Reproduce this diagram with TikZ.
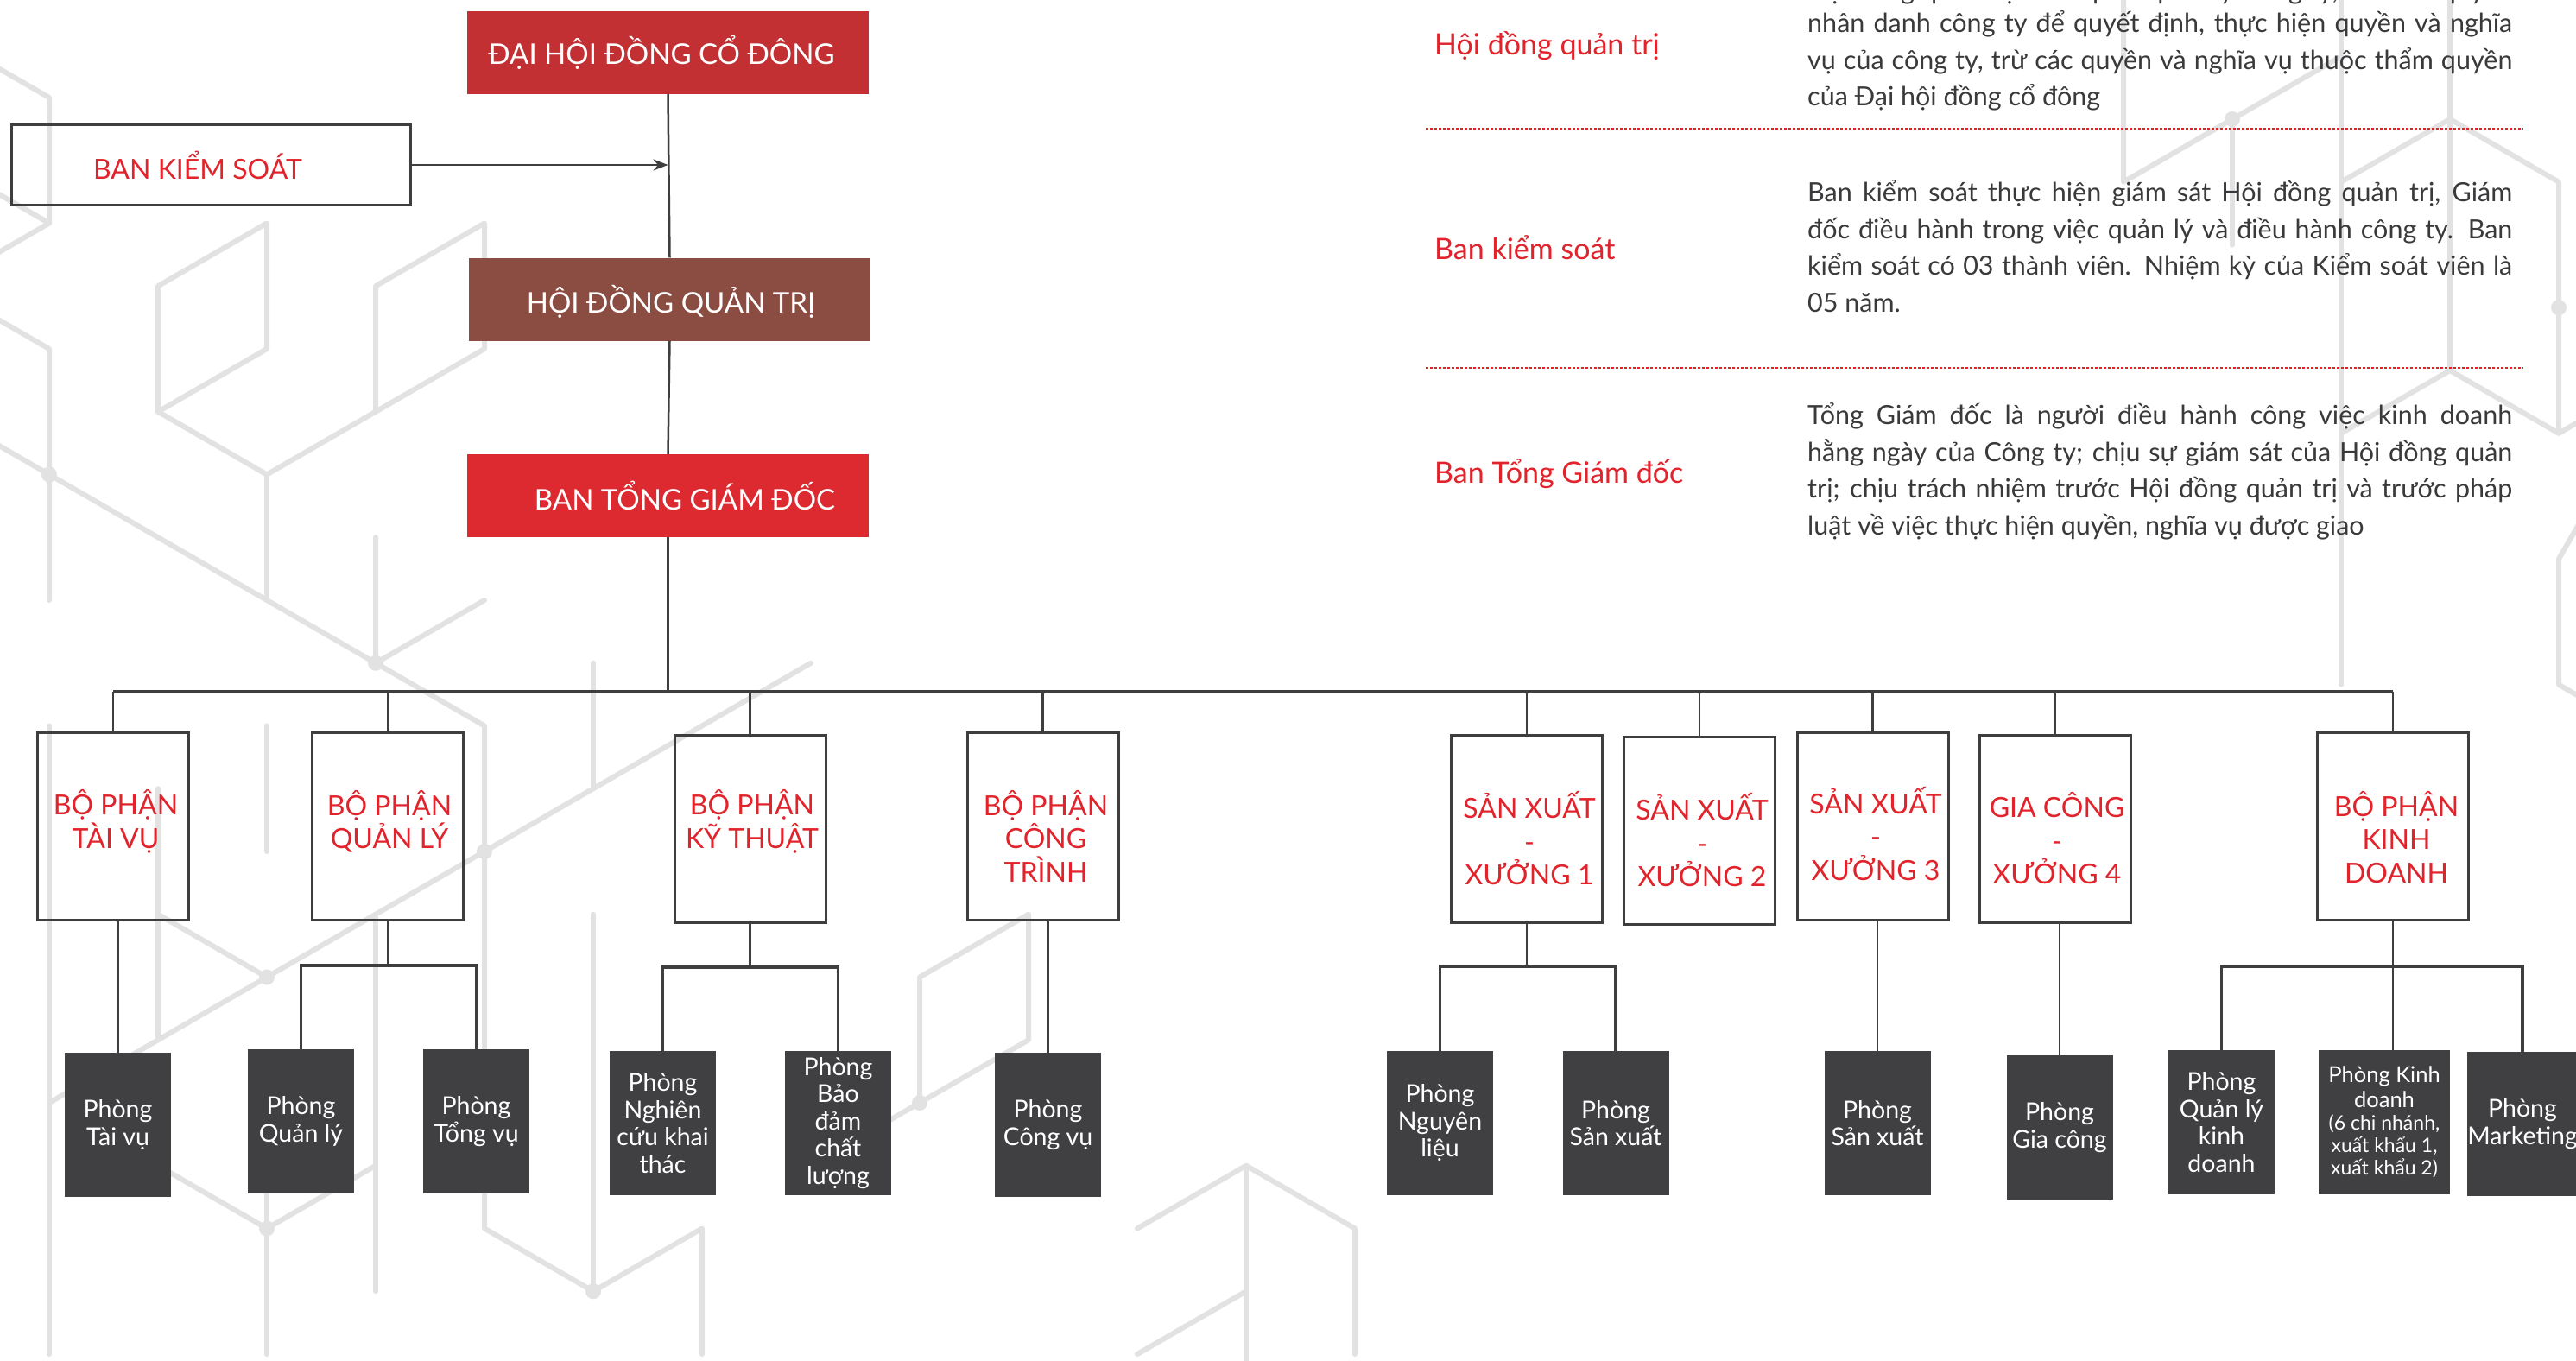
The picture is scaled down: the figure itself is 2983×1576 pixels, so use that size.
\documentclass[tikz,border=0pt]{standalone}
\usepackage{fontspec}
\setmainfont{Lato}
\usetikzlibrary{arrows.meta,calc}
\definecolor{dhred}{RGB}{194,48,51}
\definecolor{hdbrown}{RGB}{139,76,66}
\definecolor{tgred}{RGB}{220,42,48}
\definecolor{txtred}{RGB}{225,35,43}
\definecolor{darkbox}{RGB}{64,64,66}
\definecolor{linegray}{RGB}{62,62,62}
\definecolor{bodygray}{RGB}{58,58,60}
\definecolor{bggray}{RGB}{226,226,226}
\definecolor{dotred}{RGB}{214,40,40}
\begin{document}
\begin{tikzpicture}[x=1pt,y=-1pt,
  topbox/.style={rectangle, minimum width=465pt, minimum height=96pt, inner sep=0pt},
  toptext/.style={text=white, font=\fontsize{33}{38}\selectfont, inner sep=0pt},
  lbox/.style={draw=linegray, line width=3pt, minimum width=175pt, minimum height=217pt, inner sep=0pt},
  ltext/.style={align=center, text=txtred, font=\fontsize{32}{38.5}\selectfont, inner sep=0pt},
  dbox/.style={fill=darkbox, minimum width=123pt, minimum height=167pt, inner sep=0pt, align=center, text=white, font=\fontsize{28.5}{31.5}\selectfont},
  conn/.style={draw=linegray, line width=2.5pt},
  busline/.style={draw=linegray, line width=3.5pt},
  dotline/.style={draw=dotred, line width=2.5pt, dash pattern=on 2.5pt off 2.5pt},
  sidelabel/.style={text=txtred, font=\fontsize{34}{38}\selectfont, inner sep=0pt, anchor=mid west},
  para/.style={text=bodygray, font=\fontsize{30.5}{42.5}\selectfont, text width=816pt, align=justify, inner sep=0pt, anchor=base west},
  bg/.style={draw=bggray, line width=6pt, line cap=round, line join=round},
  bgdot/.style={fill=bggray, draw=none}
]
\useasboundingbox (0,0) rectangle (2983,1576);
\clip (0,0) rectangle (2983,1576);
\fill[white] (0,0) rectangle (2983,1576);

% ---------- background pattern: isometric lattice ----------
\foreach \i in {-1,...,13}{
  \foreach \r in {-1,...,10}{
    \pgfmathsetmacro\yy{113+72.75*Mod(\i,2)+145.5*\r}
    \coordinate (P\i_\r) at ({57+126*\i},\yy);
  }
}
\foreach \m in {-3,...,2}{
  \foreach \r in {-2,...,5}{
    \pgfmathsetmacro\yy{138+72.75*Mod(\m,2)+145.5*\r}
    \coordinate (Q\m_\r) at ({2837+126*\m},\yy);
  }
}
% left part
\draw[bg] (P-1_-1) -- (P0_0) -- (P0_1);
\draw[bg] (P-1_0) -- (P0_1) -- (P-1_1);
\draw[bg] (P1_1) -- (P2_1) -- (P2_2) -- (P1_2) -- cycle;
\draw[bg] (P3_1) -- (P4_1) -- (P4_2) -- (P3_2) -- cycle;
\draw[bg] (P1_2) -- (P2_3) -- (P3_2);
\draw[bg] (P2_3) -- (P2_4);
\draw[bg] (P-1_1) -- (P0_2) -- (P0_4);
\draw[bg] (P-1_2) -- (P0_3) -- (P1_3) -- (P2_4) -- (P3_4) -- (P4_5);
\draw[bg] (P3_3) -- (P3_4) -- (P4_4);
\draw[bg] (P5_4) -- (P5_5);
\draw[bg] (P0_5) -- (P0_10);
\draw[bg] (P1_5) -- (P1_7);
\draw[bg] (P0_8) -- (P1_7) -- (P2_7) -- (P3_6) -- (P4_6) -- (P5_5) -- (P6_5) -- (P7_4);
\draw[bg] (P1_6) -- (P2_7);
\draw[bg] (P2_5) -- (P2_6);
\draw[bg] (P3_6) -- (P3_9);
\draw[bg] (P4_5) -- (P4_9) -- (P5_9) -- (P6_9) -- (P6_10);
\draw[bg] (P5_6) -- (P5_9);
\draw[bg] (P2_8) -- (P2_10);
\draw[bg] (P1_8) -- (P2_9) -- (P3_8);
\draw[bg] (P7_8) -- (P8_8) -- (P9_7) -- (P9_6) -- (P8_7) -- (P8_8);
\draw[bg] (P10_9) -- (P11_8) -- (P12_9) -- (P12_10);
\draw[bg] (P11_8) -- (P11_10);
\draw[bg] (P10_10) -- (P11_9);
% right part
\draw[bg] (Q-3_-2) -- (Q-3_0) -- (Q-2_0) -- (Q-1_-1);
\draw[bg] (Q-2_0) -- (Q-2_1);
\draw[bg] (Q-1_-2) -- (Q-1_4);
\draw[bg] (Q0_-1) -- (Q0_2);
\draw[bg] (Q-1_0) -- (Q0_0) -- (Q1_0) -- (Q1_2) -- (Q2_2);
\draw[bg] (Q-1_2) -- (Q0_2) -- (Q1_2);
\draw[bg] (Q2_2) -- (Q1_3) -- (Q1_4) -- (Q2_5);
\foreach \p in {P0_3,P2_7,P2_9,P5_9,P8_8,P3_4,P4_6,Q-2_0,Q1_1}{\fill[bgdot] (\p) circle (9pt);}

% ---------- top part ----------
\node[topbox, fill=dhred] (dh) at (773.5,61) {};
\node[toptext] (dht) at (766,61) {ĐẠI HỘI ĐỒNG CỔ ĐÔNG};
\node[draw=linegray, line width=3pt, minimum width=462pt, minimum height=93pt, inner sep=0pt] (bks) at (244.5,191) {};
\node[text=txtred, font=\fontsize{32}{38}\selectfont, inner sep=0pt] (bkst) at (229,191) {BAN KIỂM SOÁT};
\node[topbox, fill=hdbrown] (hd) at (775.5,346.5) {};
\node[toptext] (hdt) at (777,349) {HỘI ĐỒNG QUẢN TRỊ};
\node[topbox, fill=tgred] (tg) at (773.5,574) {};
\node[toptext] (tgt) at (793,574) {BAN TỔNG GIÁM ĐỐC};

\coordinate (busy) at (773.5,801);
\draw[conn] (dh.south) -- (hd.north);
\draw[conn] (hd.south) -- (tg.north);
\draw[conn] (tg.south) -- (busy);
\draw[conn, -{Stealth[length=17pt,width=13pt]}] (bks.east) -- (bks.east -| dh.south);

% ---------- level 2 ----------
\node[lbox] (tv) at (131,957) {};
\node[lbox] (ql) at (449,957) {};
\node[lbox] (kt) at (868.5,960) {};
\node[lbox] (ct) at (1207.5,957) {};
\node[lbox] (x1) at (1768,960) {};
\node[lbox] (x2) at (1968,962) {};
\node[lbox] (x3) at (2168.5,957) {};
\node[lbox] (x4) at (2379.5,960) {};
\node[lbox] (kd) at (2771,957) {};
\node[ltext] (tvt) at (134,951.5) {BỘ PHẬN\\TÀI VỤ};
\node[ltext] (qlt) at (451,951.5) {BỘ PHẬN\\QUẢN LÝ};
\node[ltext] (ktt) at (871,951.5) {BỘ PHẬN\\KỸ THUẬT};
\node[ltext] (ctt) at (1211,968) {BỘ PHẬN\\CÔNG\\TRÌNH};
\node[ltext] (x1t) at (1771,971) {SẢN XUẤT\\-\\XƯỞNG 1};
\node[ltext] (x2t) at (1971,973) {SẢN XUẤT\\-\\XƯỞNG 2};
\node[ltext] (x3t) at (2172,965.5) {SẢN XUẤT\\-\\XƯỞNG 3};
\node[ltext] (x4t) at (2382,971) {GIA CÔNG\\-\\XƯỞNG 4};
\node[ltext] (kdt) at (2775,969.5) {BỘ PHẬN\\KINH\\DOANH};

\draw[busline] (tv.north |- busy) -- (kd.north |- busy);
\foreach \n in {tv,ql,kt,ct,x1,x2,x3,x4,kd}{
  \draw[conn] (\n.north) -- (\n.north |- busy);
}

% ---------- level 3 ----------
\node[dbox] (ptv) at (136.5,1302.5) {Phòng\\Tài vụ};
\node[dbox] (pql) at (348.5,1298.5) {Phòng\\Quản lý};
\node[dbox] (ptgv) at (551.5,1298.5) {Phòng\\Tổng vụ};
\node[dbox] (pnc) at (767.5,1300.5) {Phòng\\Nghiên\\cứu khai\\thác};
\node[dbox] (pbd) at (970.5,1300.5) {Phòng\\Bảo\\đảm\\chất\\lượng};
\node[dbox] (pcv) at (1213.5,1302.5) {Phòng\\Công vụ};
\node[dbox] (pnl) at (1667.5,1300.5) {Phòng\\Nguyên\\liệu};
\node[dbox] (psx1) at (1871,1300.5) {Phòng\\Sản xuất};
\node[dbox] (psx3) at (2174,1300.5) {Phòng\\Sản xuất};
\node[dbox] (pgc) at (2385,1305.5) {Phòng\\Gia công};
\node[dbox] (pqlkd) at (2572.5,1299.5) {Phòng\\Quản lý\\kinh\\doanh};
\node[dbox, minimum width=152pt, font=\fontsize{25.5}{29}\selectfont] (pkd) at (2761,1299.5) {Phòng Kinh\\doanh\\[-3pt]{\fontsize{23}{26}\selectfont (6 chi nhánh,}\\[-3pt]{\fontsize{23}{26}\selectfont xuất khẩu 1,}\\[-3pt]{\fontsize{23}{26}\selectfont xuất khẩu 2)}};
\node[dbox, minimum width=124pt] (pmk) at (2921,1301.5) {Phòng\\Marketing};

% direct links
\draw[conn] (ptv.north |- tv.south) -- (ptv.north);
\draw[conn] (pcv.north |- ct.south) -- (pcv.north);
\draw[conn] (psx3.north |- x3.south) -- (psx3.north);
\draw[conn] (pgc.north |- x4.south) -- (pgc.north);

% grouped links
\coordinate (qlj) at (449,1118);
\draw[conn] (ql.south) -- (qlj);
\draw[busline] (pql.north) |- (qlj) -| (ptgv.north);
\coordinate (ktj) at (868.5,1120);
\draw[conn] (kt.south) -- (ktj);
\draw[busline] (pnc.north) |- (ktj) -| (pbd.north);
\coordinate (x1j) at (1768,1119);
\draw[conn] (x1.south) -- (x1j);
\draw[busline] (pnl.north) |- (x1j) -| (psx1.north);
\coordinate (kdj) at (2771,1119);
\draw[conn] (kd.south) -- (kd.south |- pkd.north);
\draw[busline] (pqlkd.north) |- (kdj) -| (pmk.north);

% ---------- right descriptions ----------
\draw[dotline] (1651,149) -- (2922,149);
\draw[dotline] (1651,426) -- (2922,426);
\node[sidelabel] (l1) at (1661,61) {Hội đồng quản trị};
\node[sidelabel] (l2) at (1661,298) {Ban kiểm soát};
\node[sidelabel] (l3) at (1661,557) {Ban Tổng Giám đốc};
\node[text=bodygray, font=\fontsize{30.5}{42.5}\selectfont, inner sep=0pt, anchor=base west] (p0) at (2093,0) {\hbox to 816pt{Hội đồng quản trị là cơ quan quản lý Công ty, có toàn quyền}};
\node[para] (p1) at (2093,38) {nhân danh công ty để quyết định, thực hiện quyền và nghĩa\linebreak vụ của công ty, trừ các quyền và nghĩa vụ thuộc thẩm quyền\linebreak của Đại hội đồng cổ đông};
\node[para] (p2) at (2093,233.5) {Ban kiểm soát thực hiện giám sát Hội đồng quản trị, Giám\linebreak đốc điều hành trong việc quản lý và điều hành công ty. Ban\linebreak kiểm soát có 03 thành viên. Nhiệm kỳ của Kiểm soát viên là\linebreak 05 năm.};
\node[para] (p3) at (2093,491.5) {Tổng Giám đốc là người điều hành công việc kinh doanh\linebreak hằng ngày của Công ty; chịu sự giám sát của Hội đồng quản\linebreak trị; chịu trách nhiệm trước Hội đồng quản trị và trước pháp\linebreak luật về việc thực hiện quyền, nghĩa vụ được giao};
\end{tikzpicture}
\end{document}
